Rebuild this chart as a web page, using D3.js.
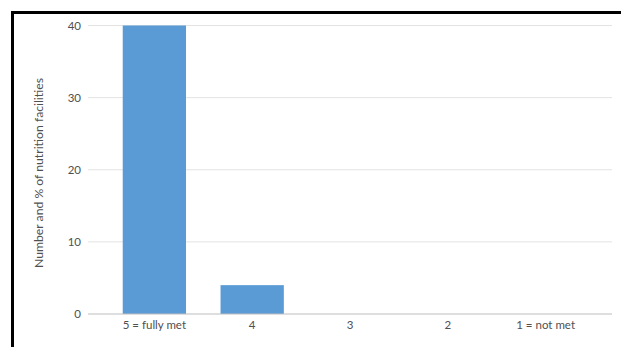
<!DOCTYPE html>
<html>
<head>
<meta charset="utf-8">
<script src="https://cdn.jsdelivr.net/npm/d3@7"></script>
<style>
  html, body { margin: 0; padding: 0; background: #fff; }
  svg { display: block; }
</style>
</head>
<body>
<svg id="chart" width="621" height="347"></svg>
<script>
// Ratings and how many nutrition facilities gave each one
const categories = ["5 = fully met", "4", "3", "2", "1 = not met"];
const counts = [40, 4, 0, 0, 0];
const yTicks = [0, 10, 20, 30, 40];
const yTitle = "Number and % of nutrition facilities";

const svg = d3.select("#chart");
const W = 621, H = 347;
const margin = { left: 88, right: 9, top: 25.5, bottom: 33 };
const fontFamily = "Lato, 'Open Sans', sans-serif";
const textColor = "#505050";

// Frame around the chart area (open on the right and bottom edges)
svg.append("rect")
  .attr("x", 12.5).attr("y", 12.5)
  .attr("width", 800).attr("height", 600)
  .attr("fill", "none")
  .attr("stroke", "#000")
  .attr("stroke-width", 3);

const x = d3.scaleBand()
  .domain(categories)
  .range([margin.left, W - margin.right])
  .paddingInner(0.353)
  .paddingOuter(0.355);

const y = d3.scaleLinear()
  .domain([0, 40])
  .range([H - margin.bottom, margin.top]);

// Horizontal gridlines
svg.append("g")
  .selectAll("line")
  .data(yTicks.filter(d => d !== 0))
  .join("line")
  .attr("x1", margin.left).attr("x2", W - margin.right)
  .attr("y1", d => y(d)).attr("y2", d => y(d))
  .attr("stroke", "#e3e3e3")
  .attr("stroke-width", 1);

// Bars
svg.append("g")
  .selectAll("rect")
  .data(categories.map((c, i) => ({ c, v: counts[i] })))
  .join("rect")
  .attr("x", d => x(d.c))
  .attr("y", d => y(d.v))
  .attr("width", x.bandwidth())
  .attr("height", d => y(0) - y(d.v))
  .attr("fill", "#5b9bd5");

// Baseline
svg.append("line")
  .attr("x1", margin.left).attr("x2", W - margin.right)
  .attr("y1", y(0)).attr("y2", y(0))
  .attr("stroke", "#bdbdbd")
  .attr("stroke-width", 1.2);

// Y axis tick labels
const yAxis = d3.axisLeft(y).tickValues(yTicks).tickSize(0).tickPadding(7);
svg.append("g")
  .attr("transform", `translate(${margin.left},0)`)
  .call(yAxis)
  .call(g => g.select(".domain").remove())
  .call(g => g.selectAll("text")
    .attr("fill", textColor)
    .attr("font-family", fontFamily)
    .attr("font-size", 11.5));

// X axis category labels
const xAxis = d3.axisBottom(x).tickSize(0).tickPadding(7);
svg.append("g")
  .attr("transform", `translate(0,${y(0)})`)
  .call(xAxis)
  .call(g => g.select(".domain").remove())
  .call(g => g.selectAll("text")
    .attr("fill", textColor)
    .attr("font-family", fontFamily)
    .attr("font-size", 11.5));

// Y axis title
svg.append("text")
  .attr("transform", `translate(43,173) rotate(-90)`)
  .attr("text-anchor", "middle")
  .attr("fill", textColor)
  .attr("font-family", fontFamily)
  .attr("font-size", 12.2)
  .text(yTitle);
</script>
</body>
</html>
